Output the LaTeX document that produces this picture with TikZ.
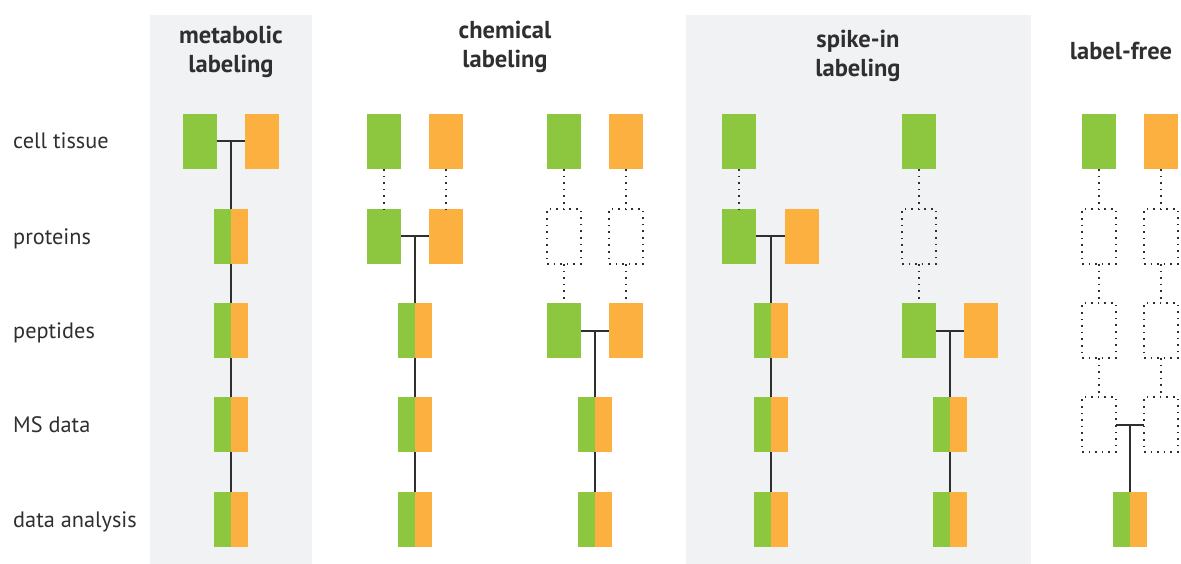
\documentclass[tikz,border=0pt]{standalone}
\usepackage{fontspec}
\setmainfont{PT Sans}
\definecolor{lgreen}{HTML}{8DC63F}
\definecolor{lorange}{HTML}{FBB040}
\definecolor{panel}{HTML}{F1F2F4}
\definecolor{ink}{HTML}{2F2F2F}
\begin{document}
\begin{tikzpicture}[x=1pt,y=-1pt,
 box/.style={minimum width=34pt,minimum height=55pt,inner sep=0pt,outer sep=0pt},
 gbox/.style={box,fill=lgreen},
 obox/.style={box,fill=lorange},
 mbox/.style={box,fill=lorange,path picture={\fill[lgreen] (path picture bounding box.south west) rectangle (path picture bounding box.north);}},
 ebox/.style={box,draw=ink,line width=1.6pt,dash pattern=on 1.6pt off 5pt},
 link/.style={draw=ink,line width=2pt},
 dlink/.style={draw=ink,line width=1.6pt,dash pattern=on 1.6pt off 5pt},
 rowlabel/.style={anchor=base west,inner sep=0pt,font=\fontsize{22.3}{24}\selectfont,text=ink},
 title/.style={anchor=north,align=center,inner sep=0pt,font=\bfseries\fontsize{24.5}{29}\selectfont,text=ink}]
\useasboundingbox (0,0) rectangle (1181,564);
\fill[panel] (150,15) rectangle (312,564);
\fill[panel] (686,15) rectangle (1031,564);
% titles
\node[title] (t1) at (231,26) {metabolic\\labeling};
\node[title] (t2) at (505,21) {chemical\\labeling};
\node[title] (t3) at (858,30) {spike-in\\labeling};
\node[title] (t4) at (1121,42) {label-free};
% row labels
\node[rowlabel] (r1) at (13,149) {cell tissue};
\node[rowlabel] (r2) at (13,244) {proteins};
\node[rowlabel] (r3) at (13,338) {peptides};
\node[rowlabel] (r4) at (13,432) {MS data};
\node[rowlabel] (r5) at (13,527) {data analysis};
% metabolic
\node[gbox] (a1g) at (200,141.5) {};
\node[obox] (a1o) at (262,141.5) {};
\node[mbox] (a2) at (231,236.5) {};
\node[mbox] (a3) at (231,330.5) {};
\node[mbox] (a4) at (231,424.5) {};
\node[mbox] (a5) at (231,519.5) {};
\draw[link] (a1g) -- (a1o);
\draw[link] (a2.north) -- (a2.north |- a1g.east);
\draw[link] (a2) -- (a3);
\draw[link] (a3) -- (a4);
\draw[link] (a4) -- (a5);
% chemical 1
\node[gbox] (b1g) at (384,141.5) {};
\node[obox] (b1o) at (446,141.5) {};
\node[gbox] (b2g) at (384,236.5) {};
\node[obox] (b2o) at (446,236.5) {};
\node[mbox] (b3) at (415,330.5) {};
\node[mbox] (b4) at (415,424.5) {};
\node[mbox] (b5) at (415,519.5) {};
\draw[dlink] (b1g) -- (b2g);
\draw[dlink] (b1o) -- (b2o);
\draw[link] (b2g) -- (b2o);
\draw[link] (b3.north) -- (b3.north |- b2g.east);
\draw[link] (b3) -- (b4);
\draw[link] (b4) -- (b5);
% chemical 2
\node[gbox] (c1g) at (564,141.5) {};
\node[obox] (c1o) at (626,141.5) {};
\node[ebox] (c2g) at (564,236.5) {};
\node[ebox] (c2o) at (626,236.5) {};
\node[gbox] (c3g) at (564,330.5) {};
\node[obox] (c3o) at (626,330.5) {};
\node[mbox] (c4) at (595,424.5) {};
\node[mbox] (c5) at (595,519.5) {};
\draw[dlink] (c1g) -- (c2g);
\draw[dlink] (c1o) -- (c2o);
\draw[dlink] (c2g) -- (c3g);
\draw[dlink] (c2o) -- (c3o);
\draw[link] (c3g) -- (c3o);
\draw[link] (c4.north) -- (c4.north |- c3g.east);
\draw[link] (c4) -- (c5);
% spike-in 1
\node[gbox] (d1g) at (739,141.5) {};
\node[gbox] (d2g) at (739,236.5) {};
\node[obox] (d2o) at (802,236.5) {};
\node[mbox] (d3) at (770.5,330.5) {};
\node[mbox] (d4) at (770.5,424.5) {};
\node[mbox] (d5) at (770.5,519.5) {};
\draw[dlink] (d1g) -- (d2g);
\draw[link] (d2g) -- (d2o);
\draw[link] (d3.north) -- (d3.north |- d2g.east);
\draw[link] (d3) -- (d4);
\draw[link] (d4) -- (d5);
% spike-in 2
\node[gbox] (e1g) at (919,141.5) {};
\node[ebox] (e2g) at (919,236.5) {};
\node[gbox] (e3g) at (919,330.5) {};
\node[obox] (e3o) at (981,330.5) {};
\node[mbox] (e4) at (950,424.5) {};
\node[mbox] (e5) at (950,519.5) {};
\draw[dlink] (e1g) -- (e2g);
\draw[dlink] (e2g) -- (e3g);
\draw[link] (e3g) -- (e3o);
\draw[link] (e4.north) -- (e4.north |- e3g.east);
\draw[link] (e4) -- (e5);
% label-free
\node[gbox] (f1g) at (1099,141.5) {};
\node[obox] (f1o) at (1161,141.5) {};
\node[ebox] (f2g) at (1099,236.5) {};
\node[ebox] (f2o) at (1161,236.5) {};
\node[ebox] (f3g) at (1099,330.5) {};
\node[ebox] (f3o) at (1161,330.5) {};
\node[ebox] (f4g) at (1099,424.5) {};
\node[ebox] (f4o) at (1161,424.5) {};
\node[mbox] (f5) at (1130,519.5) {};
\draw[dlink] (f1g) -- (f2g);
\draw[dlink] (f1o) -- (f2o);
\draw[dlink] (f2g) -- (f3g);
\draw[dlink] (f2o) -- (f3o);
\draw[dlink] (f3g) -- (f4g);
\draw[dlink] (f3o) -- (f4o);
\draw[link] (f4g) -- (f4o);
\draw[link] (f5.north) -- (f5.north |- f4g.east);
\end{tikzpicture}
\end{document}
